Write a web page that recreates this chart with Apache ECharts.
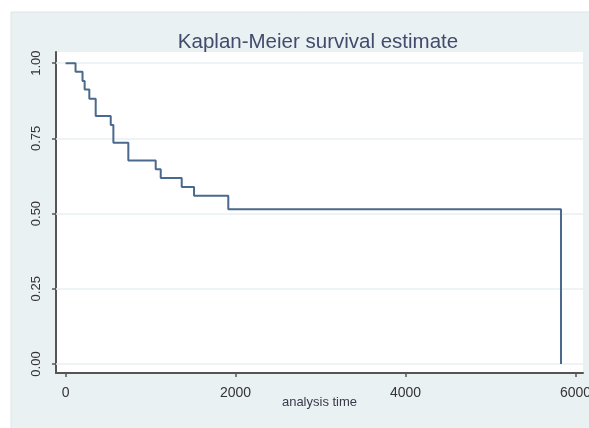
<!DOCTYPE html>
<html>
<head>
<meta charset="utf-8">
<script src="https://cdn.jsdelivr.net/npm/echarts@6/dist/echarts.min.js"></script>
<style>
html,body{margin:0;padding:0;background:#fff;}
#chart{width:589px;height:428px;}
</style>
</head>
<body>
<div id="chart"></div>
<script>
// Kaplan-Meier step points: time at which survival drops, and survival after drop
var times = [0, 118, 200, 225, 280, 355, 532, 563, 739, 1061, 1120, 1367, 1512, 1915, 5829];
var survival = [1, 0.971, 0.941, 0.912, 0.882, 0.824, 0.794, 0.735, 0.676, 0.647, 0.618, 0.588, 0.559, 0.514, 0];
var xTicks = [0, 2000, 4000, 6000];
var yTicks = [0, 0.25, 0.5, 0.75, 1];
var titleText = 'Kaplan-Meier survival estimate';
var xTitle = 'analysis time';

var FONT = 'Liberation Sans, Arial, sans-serif';
var chart = echarts.init(document.getElementById('chart'));
var pts = times.map(function (t, i) { return [t, survival[i]]; });

chart.setOption({
  backgroundColor: '#ffffff',
  animation: false,
  graphic: [{
    type: 'rect', z: -10, silent: true,
    shape: { x: 11, y: 12, width: 580, height: 420 },
    style: { fill: '#eaf1f3', stroke: '#dfe5e8', lineWidth: 1 }
  }],
  title: {
    text: titleText,
    left: 313, top: 27, textAlign: 'center',
    textStyle: { fontFamily: FONT, fontSize: 20.5, fontWeight: 'normal', color: '#414b6b' }
  },
  grid: { left: 56, right: 6, top: 52, bottom: 55, show: true, backgroundColor: '#ffffff', borderWidth: 0, outerBoundsMode: 'none', containLabel: false },
  xAxis: {
    type: 'value', min: -112, max: 6088,
    name: xTitle, nameLocation: 'middle', nameGap: 23, nameMoveOverlap: false,
    nameTextStyle: { fontFamily: FONT, fontSize: 13, color: '#3a3a4a' },
    axisLine: { onZero: false, lineStyle: { color: '#555', width: 2 } },
    axisTick: { customValues: xTicks, length: 4, lineStyle: { color: '#555', width: 1.5 } },
    axisLabel: {
      customValues: xTicks, margin: 13, fontFamily: FONT, fontSize: 14, color: '#333',
      formatter: function (v) { return String(v); }
    },
    splitLine: { show: false }
  },
  yAxis: {
    type: 'value', min: -0.03, max: 1.037,
    axisLine: { show: true, onZero: false, lineStyle: { color: '#555', width: 2 } },
    axisTick: { show: true, customValues: yTicks, length: 4, lineStyle: { color: '#555', width: 1.5 } },
    axisLabel: {
      customValues: yTicks, rotate: 90, margin: 13,
      fontFamily: FONT, fontSize: 13, color: '#333',
      formatter: function (v) { return v.toFixed(2); }
    },
    splitLine: { show: false }
  },
  series: [{
    type: 'line', data: [], z: 1, silent: true,
    markLine: {
      silent: true, symbol: 'none', label: { show: false },
      lineStyle: { color: '#e8f0f2', width: 1.5, type: 'solid' },
      data: yTicks.map(function (v) { return { yAxis: v }; })
    }
  }, {
    type: 'line', data: pts, step: 'end', showSymbol: false, z: 5,
    lineStyle: { color: '#4a698c', width: 2 }
  }]
});
</script>
</body>
</html>
